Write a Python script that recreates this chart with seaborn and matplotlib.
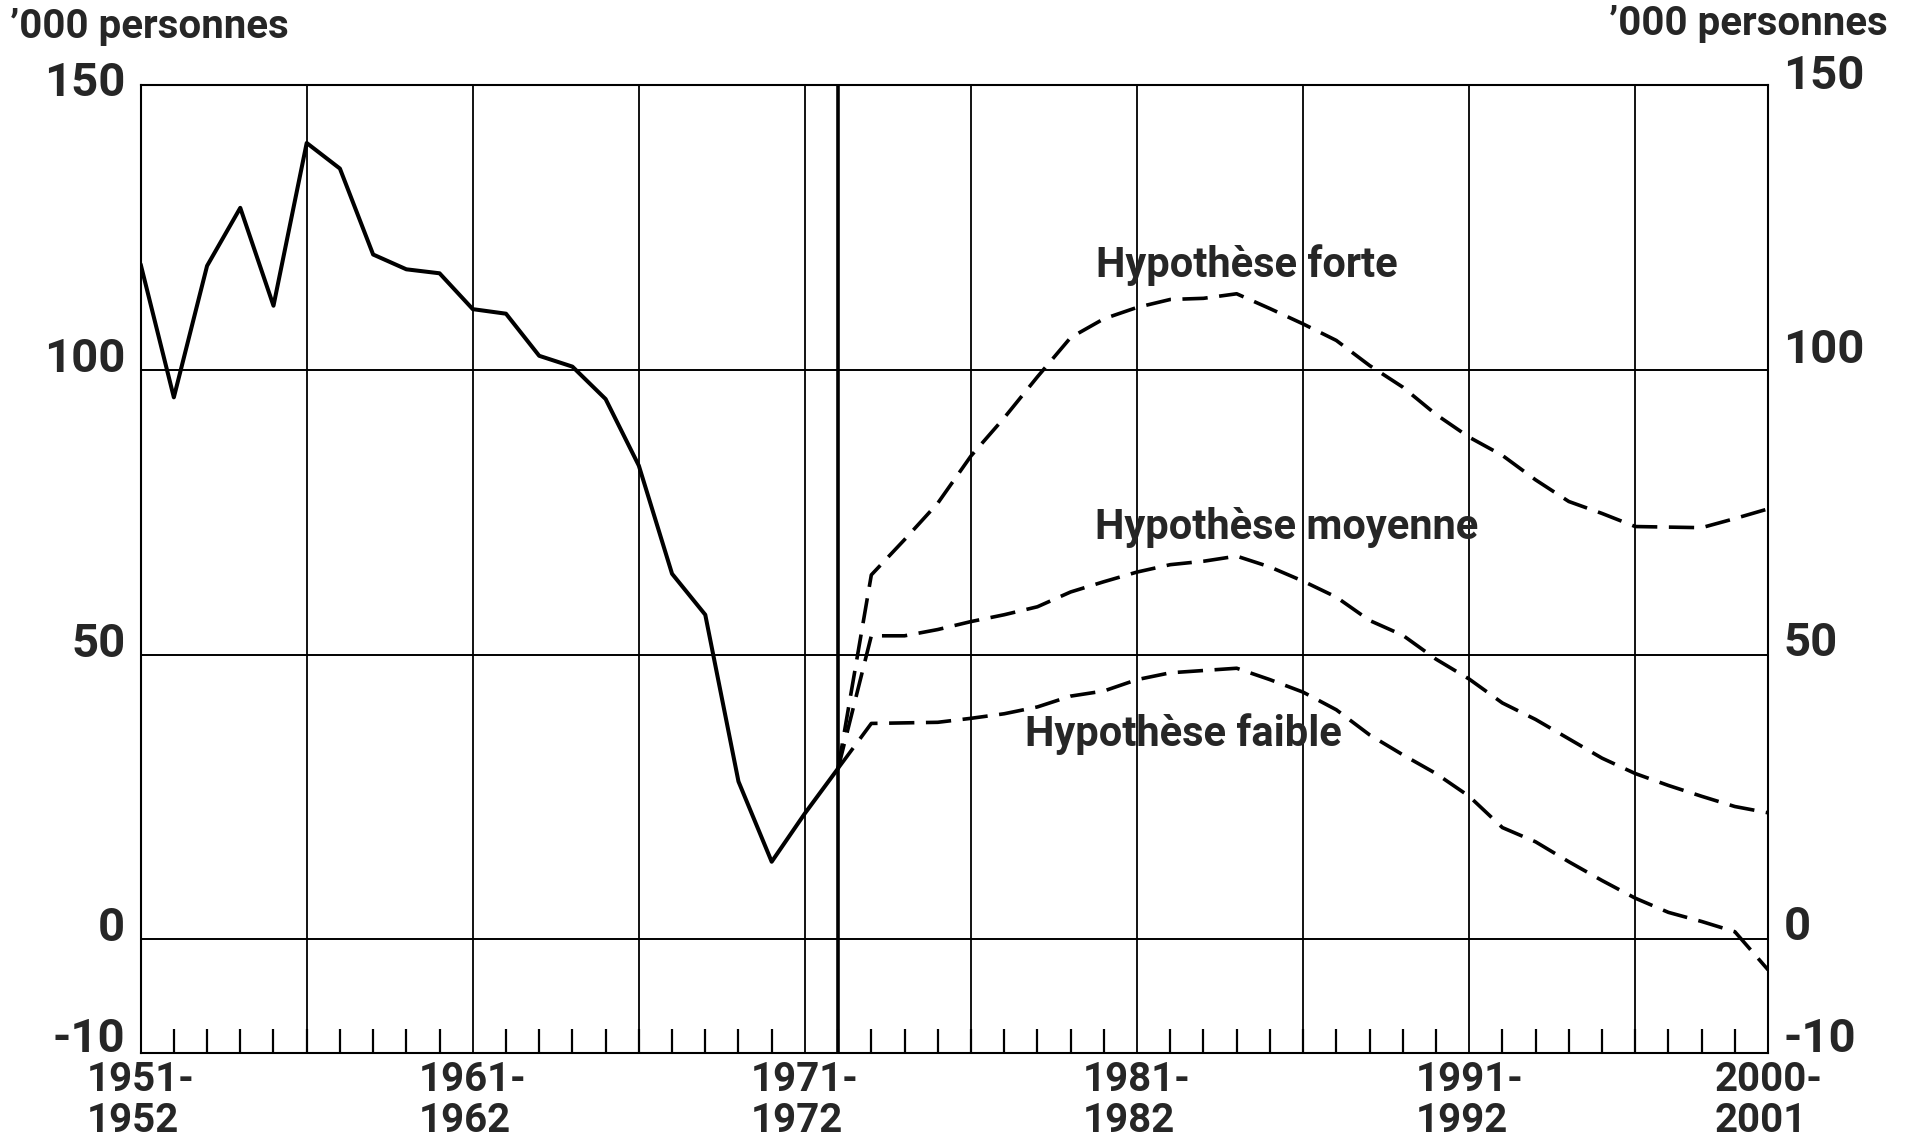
import matplotlib
matplotlib.use("Agg")
import matplotlib.pyplot as plt
import matplotlib.transforms as mtransforms
import seaborn as sns
import pandas as pd

# ---------------- data ----------------
years_hist = list(range(1951, 1973))
observed = [118.6, 95.2, 118.3, 128.5, 111.3, 139.9, 135.4, 120.3, 117.7, 117.0,
            110.7, 109.9, 102.5, 100.6, 94.9, 83.2, 64.2, 57.0, 27.7, 13.6, 22.1, 30.0]

years_proj = list(range(1972, 2001))
forte = [30.0, 64.0, 70.2, 76.6, 84.9, 91.6, 98.8, 105.7, 109.0, 111.0, 112.4, 112.6,
         113.4, 110.8, 108.1, 105.2, 100.8, 97.0, 92.2, 88.2, 85.0, 80.7, 76.9, 74.8,
         72.5, 72.4, 72.3, 73.9, 75.6]
moyenne = [30.0, 53.3, 53.3, 54.4, 55.8, 57.0, 58.4, 61.0, 62.8, 64.5, 65.8, 66.4,
           67.3, 65.4, 62.9, 60.1, 56.0, 53.4, 49.2, 45.7, 41.5, 38.6, 35.2, 31.8,
           29.1, 27.0, 25.1, 23.3, 22.2]
faible = [30.0, 37.9, 38.0, 38.1, 38.8, 39.6, 40.8, 42.7, 43.6, 45.6, 46.8, 47.2,
          47.6, 45.6, 43.4, 40.3, 35.9, 32.4, 29.1, 25.1, 19.6, 17.1, 13.6, 10.3,
          7.2, 4.7, 3.1, 1.3, -5.4]

series_labels = ["Hypothèse forte", "Hypothèse moyenne", "Hypothèse faible"]
xtick_years = [1951, 1961, 1971, 1981, 1991, 2000]
xtick_labels = ["1951-\n1952", "1961-\n1962", "1971-\n1972", "1981-\n1982", "1991-\n1992", "2000-\n2001"]
ytick_values = [-20, 0, 50, 100, 150]
ytick_labels = ["-10", "0", "50", "100", "150"]
unit_label = "\u2019000 personnes"

# ---------------- style ----------------
sns.set_theme(style="white")
FONT = ["Liberation Sans Narrow", "Roboto", "DejaVu Sans"]
plt.rcParams["font.family"] = FONT
plt.rcParams["font.weight"] = "bold"

fig = plt.figure(figsize=(19.16, 11.46), dpi=100)
ax = fig.add_axes([0.0734, 0.0812, 0.8494, 0.8442])

df_hist = pd.DataFrame({"annee": years_hist, "valeur": observed})
df_proj = pd.DataFrame({
    "annee": years_proj * 3,
    "valeur": forte + moyenne + faible,
    "hyp": sum([[s] * len(years_proj) for s in series_labels], []),
})

sns.lineplot(data=df_hist, x="annee", y="valeur", color="black", lw=2.9, ax=ax)
for s in series_labels:
    sns.lineplot(data=df_proj[df_proj["hyp"] == s], x="annee", y="valeur",
                 color="black", lw=2.6, ax=ax, dashes=False)
for ln in ax.lines[1:]:
    ln.set_dashes((7, 3.2))

# grid
for yv in [0, 50, 100]:
    ax.axhline(yv, color="black", lw=1.4, zorder=0)
for xv in [1956, 1961, 1966, 1971, 1976, 1981, 1986, 1991, 1996]:
    ax.axvline(xv, color="black", lw=1.3, zorder=0)
ax.axvline(1972, color="black", lw=2.6, zorder=0)

ax.set_xlim(1951, 2000)
ax.set_ylim(-20, 150)
for sp in ax.spines.values():
    sp.set_visible(True)
    sp.set_color("black")
    sp.set_linewidth(1.5)

ax.set_xlabel("")
ax.set_ylabel("")

# x ticks
ax.set_xticks(xtick_years)
ax.set_xticklabels(xtick_labels, fontsize=29, fontweight="bold", family=FONT,
                   linespacing=1.1, multialignment="left")
ax.set_xticks(list(range(1951, 2001)), minor=True)
ax.tick_params(axis="x", which="major", length=0, pad=6)
ax.tick_params(axis="x", which="minor", direction="in", length=17, width=1.6,
               bottom=True, color="black")

# y ticks on both sides
ax.set_yticks(ytick_values)
ax.set_yticklabels(ytick_labels, fontsize=34, fontweight="bold", family=FONT)
ax.tick_params(axis="y", which="both", left=False, right=False,
               labelleft=True, labelright=True, pad=5)
for i, tick in enumerate(ax.yaxis.get_major_ticks()):
    up_l = 14 if i == 0 else 11
    up_r = 14 if i == 0 else 12
    if ytick_values[i] == 100:
        up_r = 20
    if ytick_values[i] == 150:
        up_l = 2
        up_r = 9
    for lab, up in ((tick.label1, up_l), (tick.label2, up_r)):
        lab.set_verticalalignment("center")
        lab.set_fontsize(34)
        lab.set_fontweight("bold")
        lab.set_family(FONT)
        lab.set_transform(lab.get_transform() +
                          mtransforms.ScaledTranslation(0, up / 100, fig.dpi_scale_trans))

# series labels
ax.text(1984.3, 118.4, series_labels[0], fontsize=30, fontweight="bold",
        ha="center", va="center", family=FONT)
ax.text(1985.5, 72.3, series_labels[1], fontsize=30, fontweight="bold",
        ha="center", va="center", family=FONT)
ax.text(1982.4, 36.1, series_labels[2], fontsize=30, fontweight="bold",
        ha="center", va="center", family=FONT)

# unit labels
fig.text(10 / 1916, 1 - 27 / 1146, unit_label, fontsize=29, fontweight="bold",
         ha="left", va="center", family=FONT)
fig.text(1888 / 1916, 1 - 24 / 1146, unit_label, fontsize=29, fontweight="bold",
         ha="right", va="center", family=FONT)

fig.savefig("out.png", dpi=100, facecolor="white")
